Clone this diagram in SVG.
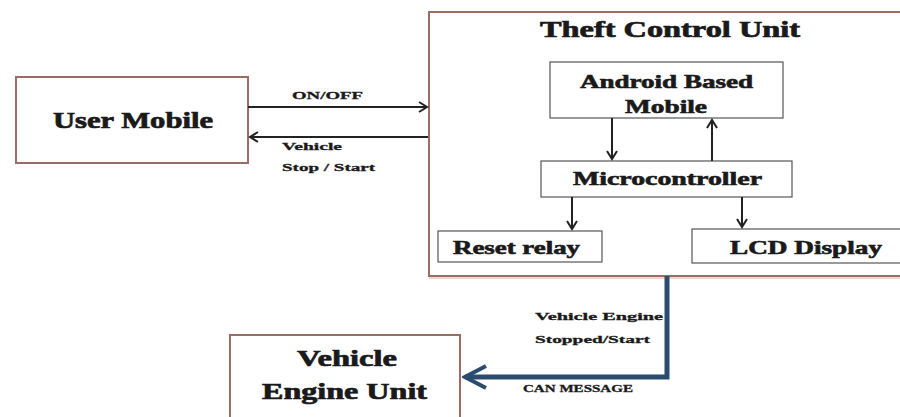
<svg xmlns="http://www.w3.org/2000/svg" width="900" height="417" viewBox="0 0 900 417">
<defs>
<style>
text{font-family:"Liberation Serif","DejaVu Serif",serif;font-weight:bold;fill:#1a1a1a;stroke:#1a1a1a;stroke-width:0.4;}
.big{font-size:23px;stroke-width:0.7;}
.mid{font-size:18px;stroke-width:0.6;}
.sm{font-size:11px;stroke-width:0.3;}
.outer{fill:#fff;stroke:#9a6e66;stroke-width:2;}
.inner{fill:#fff;stroke:#555;stroke-width:1.2;}
.conn{stroke:#222;stroke-width:2;fill:none;}
.blue{stroke:#2b4c6f;stroke-width:5;fill:none;}
</style>
<marker id="ah" markerWidth="12" markerHeight="12" refX="9" refY="6" orient="auto" markerUnits="userSpaceOnUse">
<path d="M1,1 L9,6 L1,11" fill="none" stroke="#222" stroke-width="2"/>
</marker>
<marker id="bh" markerWidth="28" markerHeight="26" refX="25" refY="13" orient="auto" markerUnits="userSpaceOnUse">
<path d="M4,2 L25,13 L4,24" fill="none" stroke="#2b4c6f" stroke-width="4"/>
</marker>
</defs>
<rect width="900" height="417" fill="#fff"/>
<g id="theft-control-unit">
<rect class="outer" x="429" y="12" width="480" height="264"/>
<line x1="429" y1="278" x2="900" y2="278" stroke="#ead8d0" stroke-width="2"/>
<text class="big" x="540" y="37" font-size="22" textLength="260" lengthAdjust="spacingAndGlyphs">Theft Control Unit</text>
</g>
<g id="user-mobile">
<rect class="outer" x="16" y="77" width="232" height="86"/>
<text class="big" x="53" y="128" textLength="160" lengthAdjust="spacingAndGlyphs">User Mobile</text>
</g>
<g id="android-mobile">
<rect class="inner" x="550" y="62" width="233" height="56"/>
<text class="mid" x="580" y="88" textLength="173" lengthAdjust="spacingAndGlyphs">Android Based</text>
<text class="mid" x="625" y="113" textLength="82" lengthAdjust="spacingAndGlyphs">Mobile</text>
</g>
<g id="microcontroller">
<rect class="inner" x="541" y="161" width="251" height="36"/>
<text class="mid" x="573" y="185" textLength="189" lengthAdjust="spacingAndGlyphs">Microcontroller</text>
</g>
<g id="reset-relay">
<rect class="inner" x="438" y="231" width="164" height="31"/>
<text class="mid" x="453" y="254" textLength="127" lengthAdjust="spacingAndGlyphs">Reset relay</text>
</g>
<g id="lcd-display">
<rect class="inner" x="692" y="229" width="215" height="34"/>
<text class="mid" x="730" y="254" textLength="152" lengthAdjust="spacingAndGlyphs">LCD Display</text>
</g>
<g id="vehicle-engine-unit">
<rect class="outer" x="230" y="335" width="230" height="90"/>
<text class="big" x="297" y="366" textLength="100" lengthAdjust="spacingAndGlyphs">Vehicle</text>
<text class="big" x="262" y="399" textLength="165" lengthAdjust="spacingAndGlyphs">Engine Unit</text>
</g>
<g id="connectors">
<line class="conn" x1="248" y1="107" x2="427" y2="107" marker-end="url(#ah)"/>
<line class="conn" x1="428" y1="137" x2="250" y2="137" marker-end="url(#ah)"/>
<line class="conn" x1="612" y1="118" x2="612" y2="159" marker-end="url(#ah)"/>
<line class="conn" x1="712" y1="161" x2="712" y2="120" marker-end="url(#ah)"/>
<line class="conn" x1="572" y1="197" x2="572" y2="229" marker-end="url(#ah)"/>
<line class="conn" x1="742" y1="197" x2="742" y2="227" marker-end="url(#ah)"/>
<polyline class="blue" points="667,276 667,377 465,377" marker-end="url(#bh)"/>
<text class="sm" x="292" y="99" textLength="71" lengthAdjust="spacingAndGlyphs">ON/OFF</text>
<text class="sm" x="282" y="150" textLength="60" lengthAdjust="spacingAndGlyphs">Vehicle</text>
<text class="sm" x="282" y="171" textLength="93" lengthAdjust="spacingAndGlyphs">Stop / Start</text>
<text class="sm" x="535" y="320" textLength="128" lengthAdjust="spacingAndGlyphs">Vehicle  Engine</text>
<text class="sm" x="535" y="343" textLength="115" lengthAdjust="spacingAndGlyphs">Stopped/Start</text>
<text class="sm" x="523" y="392" font-size="9" textLength="110" lengthAdjust="spacingAndGlyphs">CAN MESSAGE</text>
</g>
</svg>
